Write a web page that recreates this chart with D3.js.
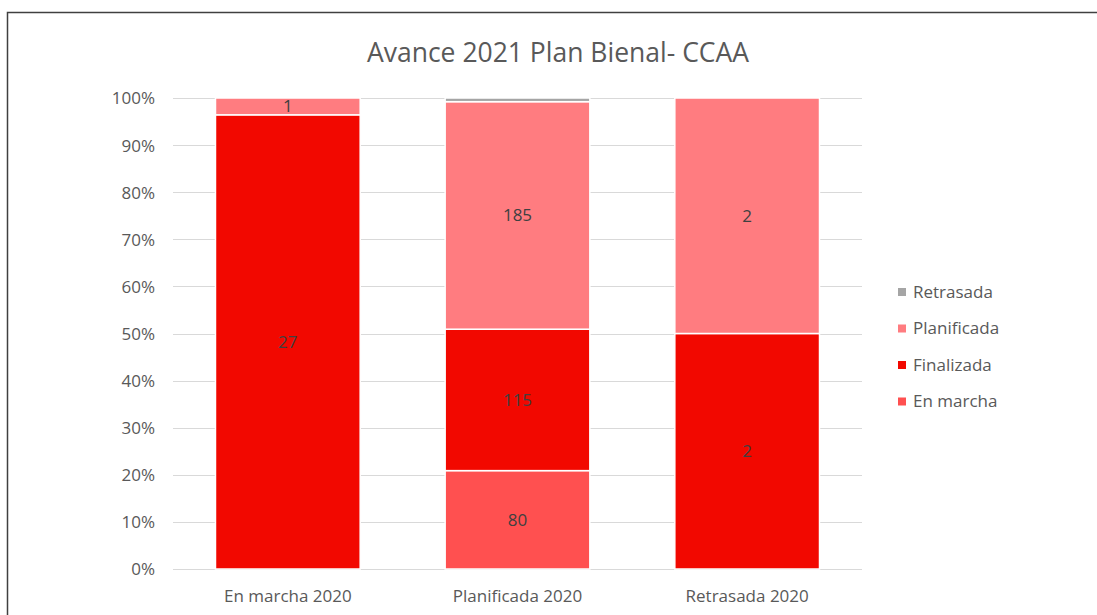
<!DOCTYPE html>
<html lang="es">
<head>
    <meta charset="UTF-8">
    <title>Avance 2021 Plan Bienal- CCAA</title>
    <script src="https://d3js.org/d3.v7.min.js"></script>
    <style>
        body { margin: 0; background: #fff; }
        text { font-family: "Open Sans", Lato, sans-serif; }
        .grid line { stroke: #d9d9d9; stroke-width: 1; }
        .tick-label { fill: #595959; font-size: 17px; }
        .seg-label { fill: #404040; font-size: 17px; }
    </style>
</head>
<body>
    <svg id="chart" width="1097" height="615"></svg>

    <script>
        // Data
        const categories = ["En marcha 2020", "Planificada 2020", "Retrasada 2020"];
        const seriesNames = ["En marcha", "Finalizada", "Planificada", "Retrasada"];
        const enMarcha = [0, 80, 0];
        const finalizada = [27, 115, 2];
        const planificada = [1, 185, 2];
        const retrasada = [0, 3, 0];
        const yTicks = [0, 0.1, 0.2, 0.3, 0.4, 0.5, 0.6, 0.7, 0.8, 0.9, 1];

        const colors = {
            "En marcha": "#ff5050",
            "Finalizada": "#f20800",
            "Planificada": "#ff7c80",
            "Retrasada": "#a5a5a5"
        };

        // Build rows for the stack
        const rows = categories.map((c, i) => ({
            category: c,
            "En marcha": enMarcha[i],
            "Finalizada": finalizada[i],
            "Planificada": planificada[i],
            "Retrasada": retrasada[i]
        }));

        const stacked = d3.stack()
            .keys(seriesNames)
            .offset(d3.stackOffsetExpand)(rows);

        const svg = d3.select("#chart");

        // Outer frame
        svg.append("path")
            .attr("d", "M7.5,615 L7.5,12.5 L1097,12.5")
            .attr("fill", "none")
            .attr("stroke", "#404040")
            .attr("stroke-width", 1.5);

        // Scales
        const x = d3.scaleBand()
            .domain(categories)
            .range([173, 862])
            .paddingInner(0.37)
            .paddingOuter(0.185);

        const y = d3.scaleLinear()
            .domain([0, 1])
            .range([569, 98]);

        // Gridlines
        svg.append("g")
            .attr("class", "grid")
            .selectAll("line")
            .data(yTicks)
            .enter().append("line")
            .attr("x1", 173)
            .attr("x2", 862)
            .attr("y1", d => Math.round(y(d)) + 0.5)
            .attr("y2", d => Math.round(y(d)) + 0.5);

        // Y axis labels
        const yAxis = svg.append("g")
            .attr("transform", "translate(155,0)")
            .call(d3.axisLeft(y).tickValues(yTicks).tickFormat(d3.format(".0%")).tickSize(0).tickPadding(0));
        yAxis.select(".domain").remove();
        yAxis.selectAll("text")
            .attr("class", "tick-label")
            .attr("dy", "0.35em");

        // X axis labels
        const xAxis = svg.append("g")
            .attr("transform", "translate(0,601.5)")
            .call(d3.axisBottom(x).tickSize(0).tickPadding(0));
        xAxis.select(".domain").remove();
        xAxis.selectAll("text")
            .attr("class", "tick-label")
            .attr("y", 0)
            .attr("dy", 0);

        // Bars
        const layers = svg.append("g")
            .selectAll("g")
            .data(stacked)
            .enter().append("g")
            .attr("fill", d => colors[d.key]);

        layers.selectAll("rect")
            .data(d => d.map(p => ({ key: d.key, p })))
            .enter().append("rect")
            .attr("x", d => x(d.p.data.category))
            .attr("width", x.bandwidth())
            .attr("y", d => y(d.p[1]))
            .attr("height", d => Math.max(0, y(d.p[0]) - y(d.p[1])))
            .attr("stroke", "#fff")
            .attr("stroke-width", d => (d.p[1] - d.p[0]) > 0 ? 1.5 : 0);

        // Segment labels
        layers.selectAll("text")
            .data(d => d.map(p => ({ key: d.key, p })).filter(e => (e.p[1] - e.p[0]) >= 0.02))
            .enter().append("text")
            .attr("class", "seg-label")
            .attr("x", d => x(d.p.data.category) + x.bandwidth() / 2)
            .attr("y", d => y((d.p[0] + d.p[1]) / 2))
            .attr("dy", "0.35em")
            .attr("text-anchor", "middle")
            .text(d => d.p.data[d.key]);

        // Title
        svg.append("text")
            .attr("x", 558)
            .attr("y", 62)
            .attr("text-anchor", "middle")
            .attr("fill", "#595959")
            .style("font-size", "26.5px")
            .text("Avance 2021 Plan Bienal- CCAA");

        // Legend (reverse order, like the stack)
        const legend = svg.append("g")
            .selectAll("g")
            .data(seriesNames.slice().reverse())
            .enter().append("g")
            .attr("transform", (d, i) => "translate(898," + (292 + i * 36.5) + ")");

        legend.append("rect")
            .attr("x", 0)
            .attr("y", -4)
            .attr("width", 8)
            .attr("height", 8)
            .attr("fill", d => colors[d]);

        legend.append("text")
            .attr("class", "tick-label")
            .attr("x", 15)
            .attr("dy", "0.35em")
            .text(d => d);
    </script>
</body>
</html>
